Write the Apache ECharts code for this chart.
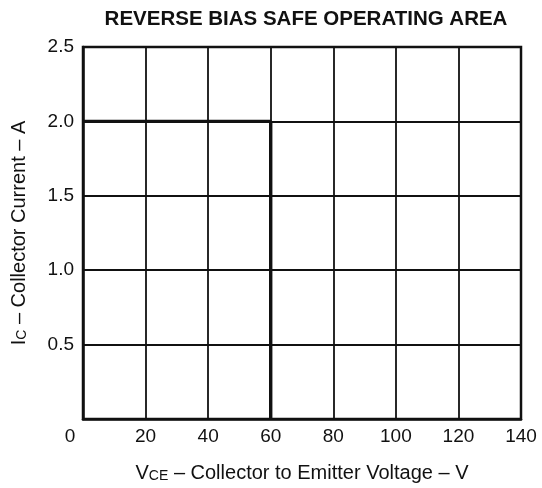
<!DOCTYPE html>
<html>
<head>
<meta charset="utf-8">
<script src="https://cdn.jsdelivr.net/npm/echarts@6/dist/echarts.min.js"></script>
<style>
html,body{margin:0;padding:0;background:#fff;}
#chart{width:542px;height:488px;}
</style>
</head>
<body>
<div id="chart"></div>
<script>
// Data
var titleText = 'REVERSE BIAS SAFE OPERATING AREA';
var voltage = [0, 60, 60];      // VCE (V)
var current = [2.0, 2.0, 0];    // IC (A)
var xMin = 0, xMax = 140, xStep = 20;
var yMin = 0, yMax = 2.5, yStep = 0.5;

var FONT = '"Liberation Sans", Arial, Helvetica, sans-serif';
var points = voltage.map(function (v, i) { return [v, current[i]]; });

var nameRich = {
  b: { fontFamily: FONT, fontSize: 20, color: '#111', lineHeight: 22, verticalAlign: 'bottom' },
  s: { fontFamily: FONT, fontSize: 14, color: '#111', lineHeight: 22, verticalAlign: 'bottom' }
};

var chart = echarts.init(document.getElementById('chart'));
chart.setOption({
  backgroundColor: '#fff',
  animation: false,
  title: {
    text: titleText,
    left: 301, top: 4,
    textAlign: 'center',
    textStyle: { fontFamily: FONT, fontSize: 20.5, fontWeight: 'bold', color: '#111' }
  },
  grid: {
    left: 83, right: 21, top: 47, bottom: 69,
    show: true, borderColor: '#111', borderWidth: 2.5, backgroundColor: 'transparent'
  },
  xAxis: {
    type: 'value', min: xMin, max: xMax, interval: xStep,
    axisLine: { show: true, lineStyle: { color: '#111', width: 2.5 } },
    axisTick: { show: false },
    splitLine: { show: true, lineStyle: { color: '#111', width: 1.8 } },
    axisLabel: {
      margin: 8,
      fontFamily: FONT, fontSize: 19, color: '#111',
      formatter: function (v) { return v === 0 ? '{z|0}' : String(v); },
      rich: { z: { fontFamily: FONT, fontSize: 19, color: '#111', padding: [0, 26, 0, 0] } }
    },
    name: '{b|V}{s|CE}{b| – Collector to Emitter Voltage – V}',
    nameLocation: 'middle', nameGap: 42,
    nameTextStyle: { rich: nameRich }
  },
  yAxis: {
    type: 'value', min: yMin, max: yMax, interval: yStep,
    axisLine: { show: true, lineStyle: { color: '#111', width: 2.5 } },
    axisTick: { show: false },
    splitLine: { show: true, lineStyle: { color: '#111', width: 1.8 } },
    axisLabel: {
      margin: 9,
      fontFamily: FONT, fontSize: 19, color: '#111',
      formatter: function (v) { return v === 0 ? '' : v.toFixed(1); }
    },
    name: '{b|I}{s|C}{b| – Collector Current – A}',
    nameLocation: 'middle', nameGap: 54,
    nameTextStyle: { rich: nameRich }
  },
  series: [{
    type: 'line',
    data: points,
    showSymbol: false,
    lineStyle: { color: '#111', width: 3.4 },
    z: 5
  }]
});
</script>
</body>
</html>
